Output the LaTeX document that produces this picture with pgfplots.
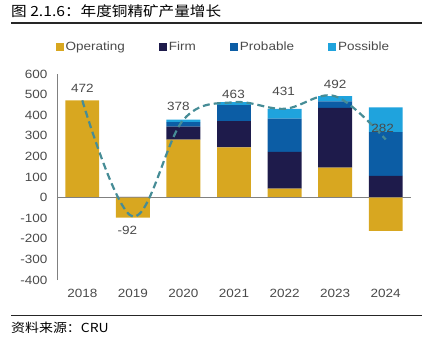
\documentclass[border=0pt]{standalone}
\usepackage{pgfplots}
\pgfplotsset{compat=1.18}
\usepackage{fontspec}
\setmainfont[FakeStretch=1.13]{Liberation Sans}
\newfontfamily\cjk[FakeStretch=1.12]{Noto Sans CJK SC}
\definecolor{opc}{HTML}{D8A720}
\definecolor{firmc}{HTML}{1E1B4B}
\definecolor{probc}{HTML}{0C5DA5}
\definecolor{possc}{HTML}{1FA3DD}
\definecolor{linec}{HTML}{468C96}
\definecolor{txt}{HTML}{4A4A4A}
\pgfplotsset{
  myaxis/.style={
    at={(57bp,67bp)}, anchor=south west,
    scale only axis, width=354bp, height=206bp,
    xmin=-0.5, xmax=6.5, ymin=-400, ymax=600,
    xtick={0,1,2,3,4,5,6},
    xticklabels={2018,2019,2020,2021,2022,2023,2024},
    ytick={-400,-300,-200,-100,0,100,200,300,400,500,600},
    major tick length=0pt,
    /pgf/number format/assume math mode=true,
    tick label style={font=\fontsize{12}{14}\selectfont, text=txt},
    yticklabel style={xshift=-6bp},
    xticklabel style={yshift=-6bp},
    axis lines*=left,
    x axis line style={draw=none},
    y axis line style={draw=gray, line width=0.8bp},
    clip=false,
  },
  legsq/.style={legend image code/.code={\fill[##1] (0bp,-4bp) rectangle (8bp,4bp);}},
}
\begin{document}
\begin{tikzpicture}[x=1bp,y=1bp]
\useasboundingbox (0,0) rectangle (438,347);
\node[anchor=west, inner sep=0] at (11,336) {\cjk\fontsize{14}{16}\selectfont 图 2.1.6：年度铜精矿产量增长};
\draw[line width=1.5bp, black!85] (11,324) -- (422,324);
\draw[line width=1.5bp, black!85] (11,31.5) -- (422,31.5);
\node[anchor=west, inner sep=0] at (11,19) {\cjk\fontsize{12.5}{14}\selectfont 资料来源：CRU};

\begin{axis}[myaxis, ybar stacked, bar width=0.67,
  legend style={at={(rel axis cs:0.47,1.131)}, anchor=center, draw=none, fill=none,
    legend columns=4, font=\fontsize{12}{14}\selectfont, text=txt,
    /tikz/every even column/.append style={column sep=32bp}},
]
\addplot[fill=opc, draw=none, legsq] coordinates {(0,472)(1,0)(2,282)(3,244)(4,43)(5,145)(6,0)};
\addlegendentry{Operating}
\addplot[fill=firmc, draw=none, legsq] coordinates {(0,0)(1,4)(2,62)(3,127)(4,179)(5,291)(6,106)};
\addlegendentry{Firm}
\addplot[fill=probc, draw=none, legsq] coordinates {(0,0)(1,0)(2,22)(3,78)(4,161)(5,31)(6,212)};
\addlegendentry{Probable}
\addplot[fill=possc, draw=none, legsq] coordinates {(0,0)(1,0)(2,12)(3,14)(4,48)(5,25)(6,120)};
\addlegendentry{Possible}
\end{axis}

\begin{axis}[myaxis, hide axis]
\draw[gray, line width=0.8bp] (axis cs:-0.5,0) -- (axis cs:6.5,0);
\addplot[ybar, bar width=0.67, bar shift=0pt, fill=opc, draw=none] coordinates {(1,-97)(6,-161)};
\addplot[linec, line width=2.2bp, dash pattern=on 7bp off 4bp, smooth, tension=0.6, mark=none]
  coordinates {(0,472)(1,-92)(2,378)(3,463)(4,431)(5,492)(6,282)};
\begin{scope}[every node/.style={font=\fontsize{12}{14}\selectfont, text=txt}]
\node at (axis cs:0,530) {472};
\node at (axis cs:0.89,-161) {-92};
\node at (axis cs:1.9,441) {378};
\node at (axis cs:2.99,501) {463};
\node at (axis cs:3.98,514) {431};
\node at (axis cs:5.0,551) {492};
\node at (axis cs:5.94,336) {282};
\end{scope}
\end{axis}
\end{tikzpicture}
\end{document}
